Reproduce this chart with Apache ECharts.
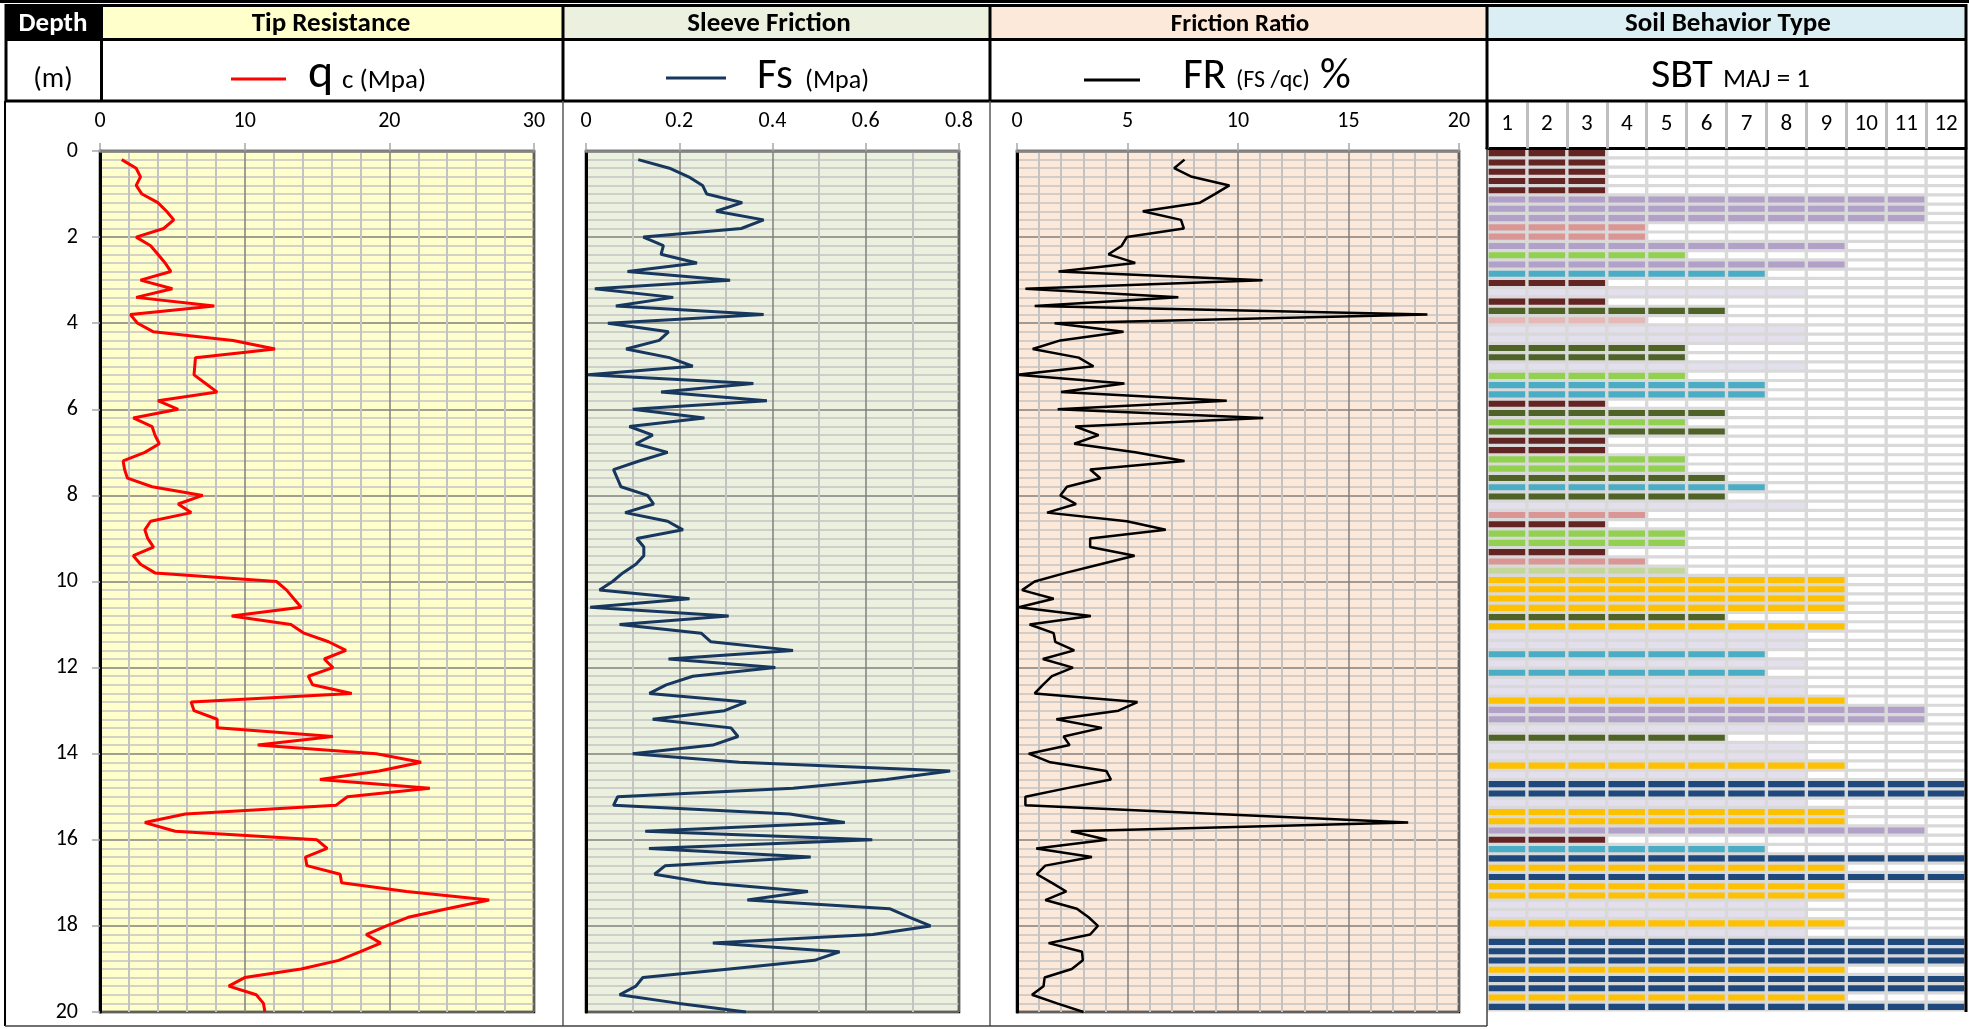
<!DOCTYPE html>
<html><head><meta charset="utf-8">
<script src="https://cdn.jsdelivr.net/npm/echarts@6/dist/echarts.min.js"></script>
<style>html,body{margin:0;padding:0;background:#fff}#c{width:1969px;height:1029px}</style>
</head><body><div id="c"></div><script>
const FONT = 'Carlito, Lato, "Open Sans", sans-serif';

// depth (m) of each reading
const depth = [0.2,0.4,0.6,0.8,1.0,1.2,1.4,1.6,1.8,2.0,2.2,2.4,2.6,2.8,3.0,3.2,3.4,3.6,3.8,4.0,
4.2,4.4,4.6,4.8,5.0,5.2,5.4,5.6,5.8,6.0,6.2,6.4,6.6,6.8,7.0,7.2,7.4,7.6,7.8,8.0,
8.2,8.4,8.6,8.8,9.0,9.2,9.4,9.6,9.8,10.0,10.2,10.4,10.6,10.8,11.0,11.2,11.4,11.6,11.8,12.0,
12.2,12.4,12.6,12.8,13.0,13.2,13.4,13.6,13.8,14.0,14.2,14.4,14.6,14.8,15.0,15.2,15.4,15.6,15.8,16.0,
16.2,16.4,16.6,16.8,17.0,17.2,17.4,17.6,17.8,18.0,18.2,18.4,18.6,18.8,19.0,19.2,19.4,19.6,19.8,20.0];

// tip resistance qc (MPa)
const qc = [1.5,2.5,2.8,2.5,2.9,4.0,4.6,5.1,4.4,2.5,3.5,4.0,4.5,4.9,2.8,5.0,2.5,7.9,2.1,2.6,
3.7,9.2,12.1,6.6,6.55,6.5,7.3,8.1,4.0,5.4,2.3,3.6,3.8,4.1,3.1,1.6,1.7,1.9,3.6,7.1,
5.4,6.3,3.5,3.1,3.3,3.7,2.3,2.8,3.8,12.2,12.9,13.4,13.9,9.1,13.2,14.1,15.8,17.0,15.5,16.1,
14.4,14.7,17.4,6.3,6.5,8.1,8.1,16.1,10.9,19.1,22.2,19.3,15.2,22.8,17.1,16.3,5.9,3.1,5.2,15.0,
15.7,14.2,14.3,16.6,16.7,21.2,26.9,24.0,21.3,19.8,18.4,19.4,18.0,16.5,13.9,10.0,8.9,10.8,11.3,11.4];

// sleeve friction fs (MPa)
const fs = [0.112,0.179,0.220,0.250,0.259,0.335,0.279,0.381,0.333,0.123,0.166,0.161,0.238,0.089,0.309,0.019,0.187,0.064,0.381,0.047,
0.177,0.157,0.086,0.179,0.229,0.004,0.359,0.161,0.388,0.100,0.254,0.093,0.143,0.107,0.175,0.114,0.059,0.067,0.075,0.132,
0.145,0.084,0.175,0.208,0.109,0.124,0.124,0.107,0.079,0.057,0.029,0.222,0.009,0.306,0.072,0.247,0.268,0.444,0.177,0.406,
0.229,0.172,0.136,0.343,0.297,0.143,0.311,0.326,0.272,0.100,0.329,0.781,0.644,0.444,0.068,0.059,0.437,0.555,0.127,0.614,
0.135,0.482,0.170,0.147,0.258,0.476,0.346,0.651,0.694,0.739,0.615,0.272,0.544,0.490,0.308,0.122,0.107,0.072,0.200,0.343];

// friction ratio FR (%)
const fr = [7.58,7.11,7.91,9.61,8.95,8.28,5.69,7.42,7.55,4.97,4.74,4.14,5.35,1.88,11.11,0.38,7.30,0.80,18.57,1.70,
4.82,1.96,0.71,2.79,3.46,0.0,4.86,1.99,9.49,1.84,11.14,2.64,3.69,2.59,5.35,7.58,3.31,3.77,2.26,1.96,
2.67,1.36,4.97,6.73,3.31,3.31,5.32,3.77,2.2,0.8,0.23,1.66,0.08,3.34,0.57,1.66,1.73,2.59,1.17,2.53,
1.58,1.17,0.80,5.45,4.59,1.78,3.84,2.11,2.38,0.53,1.51,4.04,4.25,2.26,0.38,0.38,9.04,17.70,2.44,4.07,
0.87,3.39,1.28,0.90,1.58,2.23,1.28,2.71,3.24,3.66,3.31,1.43,2.94,2.98,2.48,1.25,1.20,0.68,1.81,3.01];

// soil behaviour type table: columns, span (number of filled cells) and colour class per row
const sbtColumns = ['1','2','3','4','5','6','7','8','9','10','11','12'];
const sbtSpan = [3,3,3,3,3,11,11,11,4,4, 9,5,9,7,3,8,3,6,4,8, 8,5,5,8,5,7,7,3,6,5,
6,3,3,5,5,6,7,6,8,4, 3,5,5,3,4,5,9,9,9,9, 6,9,8,8,7,8,7,8,8,9, 11,11,8,6,8,8,9,8,12,12,
8,9,9,11,3,7,12,9,12,9, 9,8,8,9,8,12,12,12,9,12, 12,9,12];
const sbtClass = ['M','M','M','M','M','P','P','P','S','S', 'P','G','P','T','M','V','M','O','L','V',
'V','O','O','V','G','T','T','M','O','G', 'O','M','M','G','G','O','T','O','V','S',
'M','G','G','M','S','E','Y','Y','Y','Y', 'O','Y','V','V','T','V','T','V','V','Y',
'P','P','V','O','V','V','Y','V','N','N', 'V','Y','Y','P','M','T','N','Y','N','Y',
'Y','V','V','Y','V','N','N','N','Y','N', 'N','Y','N'];
const sbtColors = {M:'#632523',P:'#B1A0C7',S:'#DA9694',G:'#92D050',L:'#E6B8B7',T:'#4BACC6',
  V:'#E4DFEC',O:'#4F6228',E:'#C4D79B',Y:'#FFC000',N:'#1F497D'};
const sbtRows = sbtSpan.map((v,i)=>String(i+1));

const chart = echarts.init(document.getElementById('c'), null, {renderer:'canvas'});

const GRID_TOP = 151, GRID_H = 861;
function xAx(idx, max, interval, minorN) {
  return {
    gridIndex: idx, type: 'value', position: 'top', min: 0, max: max, interval: interval,
    axisLine: {show: true, onZero: false, lineStyle: {color: '#868686', width: 2.5}},
    axisTick: {show: true, length: 8, lineStyle: {color: '#a6a6a6', width: 1.5}},
    axisLabel: {fontSize: 22, color: '#000', margin: 19, fontFamily: FONT},
    splitLine: {show: true, lineStyle: {color: '#7f7f7f', width: 1.5}},
    minorTick: {show: false, splitNumber: minorN},
    minorSplitLine: {show: true, lineStyle: {color: '#c3c3c3', width: 2}}
  };
}
function yAx(idx, showLabel) {
  return {
    gridIndex: idx, type: 'value', inverse: true, min: 0, max: 20, interval: 2,
    axisLine: {show: true, onZero: false, lineStyle: {color: '#000', width: 3}},
    axisTick: {show: showLabel, length: 8, lineStyle: {color: '#a6a6a6', width: 1.5}},
    axisLabel: {show: showLabel, fontSize: 22, color: '#000', margin: 22, fontFamily: FONT},
    splitLine: {show: true, lineStyle: {color: '#7f7f7f', width: 1.5}},
    minorTick: {show: false, splitNumber: 10},
    minorSplitLine: {show: true, lineStyle: {color: '#c3c3c3', width: 1.5}}
  };
}

const sbtCells = [];
sbtSpan.forEach((s, r) => { for (let c = 0; c < sbtColumns.length; c++) sbtCells.push([c, r]); });

const G = [];
function rect(x, y, w, h, fill, z) { G.push({type:'rect', z: z||10, shape:{x, y, width:w, height:h}, style:{fill}}); }
function line(x1, y1, x2, y2, stroke, w, z) { G.push({type:'line', z: z||20, shape:{x1,y1,x2,y2}, style:{stroke, lineWidth:w}}); }
function text(x, y, t, size, opts) {
  opts = opts || {};
  G.push({type:'text', z: 30, x, y, style:{text:t, fontSize:size, fontFamily:FONT, fontWeight:opts.bold?'bold':'normal',
    fill: opts.color||'#000', align: opts.align||'left', verticalAlign:'middle'}});
}
// header fills
rect(6, 5, 96, 34, '#000');
rect(102, 5, 461, 34, '#FFFFCC');
rect(563, 5, 427, 34, '#EBF1DE');
rect(990, 5, 497, 34, '#FDE9D9');
rect(1487, 5, 480, 34, '#DAEEF3');
// top double line
line(0, 1.5, 1969, 1.5, '#000', 3);
// header borders
line(5, 5.5, 1967, 5.5, '#000', 3);
line(5, 39.5, 1967, 39.5, '#000', 3);
line(5, 101, 1967, 101, '#000', 3);
[6, 101.5, 563, 990, 1487, 1966].forEach(x => line(x, 4, x, 101, '#000', 3));
// SBT column header border
line(1487, 101, 1487, 149, '#000', 3);
line(1966, 101, 1966, 1012, '#000', 3);
// panel borders
line(5, 101, 5, 1026, '#000', 2);
line(563, 101, 563, 1026, '#595959', 1.5);
line(990, 101, 990, 1026, '#595959', 1.5);
line(1487, 149, 1487, 1026, '#404040', 1.5);
line(5, 1026, 1487, 1026, '#404040', 1.5);
// header texts
text(53, 24.5, 'Depth', 27, {bold:true, color:'#fff', align:'center'});
text(331, 24.5, 'Tip Resistance', 27, {bold:true, align:'center'});
text(769, 24.5, 'Sleeve Friction', 27, {bold:true, align:'center'});
text(1240, 24.5, 'Friction Ratio', 25, {bold:true, align:'center'});
text(1728, 24.5, 'Soil Behavior Type', 27, {bold:true, align:'center'});
text(53, 80, '(m)', 28, {align:'center'});
// legends row
line(231, 79, 286, 79, '#FF0000', 3);
text(308, 75, 'q', 48);
text(342, 81, 'c (Mpa)', 27);
line(666, 78, 726, 78, '#17375E', 3);
text(757, 77, 'Fs', 43);
text(805, 81, '(Mpa)', 26);
line(1084, 80, 1140, 80, '#000', 3);
text(1183, 77, 'FR', 43);
text(1236, 81, '(FS /qc)', 24);
text(1320, 77, '%', 43);
text(1651, 76, 'SBT', 42);
text(1723, 80, 'MAJ = 1', 27);

const option = {
  animation: false,
  backgroundColor: '#fff',
  textStyle: {fontFamily: FONT},
  grid: [
    {left: 100, top: GRID_TOP, width: 434, height: GRID_H, show: true, backgroundColor: '#FFFFCC', borderColor: '#000', borderWidth: 2.5},
    {left: 586, top: GRID_TOP, width: 373, height: GRID_H, show: true, backgroundColor: '#EBF1DE', borderColor: '#000', borderWidth: 2.5},
    {left: 1017, top: GRID_TOP, width: 442, height: GRID_H, show: true, backgroundColor: '#FDE9D9', borderColor: '#000', borderWidth: 2.5},
    {left: 1487, top: 148.5, width: 479, height: 863, show: true, backgroundColor: '#D9D9D9', borderWidth: 0}
  ],
  xAxis: [
    xAx(0, 30, 10, 5),
    xAx(1, 0.8, 0.2, 2),
    xAx(2, 20, 5, 5),
    {gridIndex: 3, type: 'category', position: 'top', data: sbtColumns,
     axisLine: {show: true, lineStyle: {color: '#000', width: 3}},
     axisTick: {show: true, inside: false, length: 46, lineStyle: {color: '#BFBFBF', width: 3}},
     axisLabel: {fontSize: 23, color: '#000', margin: 13, fontFamily: FONT},
     splitLine: {show: false}}
  ],
  yAxis: [
    yAx(0, true), yAx(1, false), yAx(2, false),
    {gridIndex: 3, type: 'category', inverse: true, data: sbtRows, show: false}
  ],
  series: [
    {type: 'line', xAxisIndex: 0, yAxisIndex: 0, showSymbol: false, symbol: 'none',
     lineStyle: {color: '#FF0000', width: 3}, data: depth.map((d, i) => [qc[i], d]), z: 5},
    {type: 'line', xAxisIndex: 1, yAxisIndex: 1, showSymbol: false, symbol: 'none',
     lineStyle: {color: '#17375E', width: 3}, data: depth.map((d, i) => [fs[i], d]), z: 5},
    {type: 'line', xAxisIndex: 2, yAxisIndex: 2, showSymbol: false, symbol: 'none',
     lineStyle: {color: '#000', width: 2.5}, data: depth.map((d, i) => [fr[i], d]), z: 5},
    {type: 'custom', xAxisIndex: 3, yAxisIndex: 3, data: sbtCells, silent: true,
     renderItem: function (params, api) {
       const c = api.value(0), r = api.value(1);
       const p = api.coord([c, r]);
       const s = api.size([1, 1]);
       const w = s[0] - 3.4, h = s[1] - 3.2;
       const filled = c < sbtSpan[r];
       return {type: 'rect', shape: {x: p[0] - w / 2, y: p[1] - h / 2, width: w, height: h},
         style: {fill: filled ? sbtColors[sbtClass[r]] : '#fff'}};
     }}
  ],
  graphic: {elements: G}
};
chart.setOption(option);
</script></body></html>
